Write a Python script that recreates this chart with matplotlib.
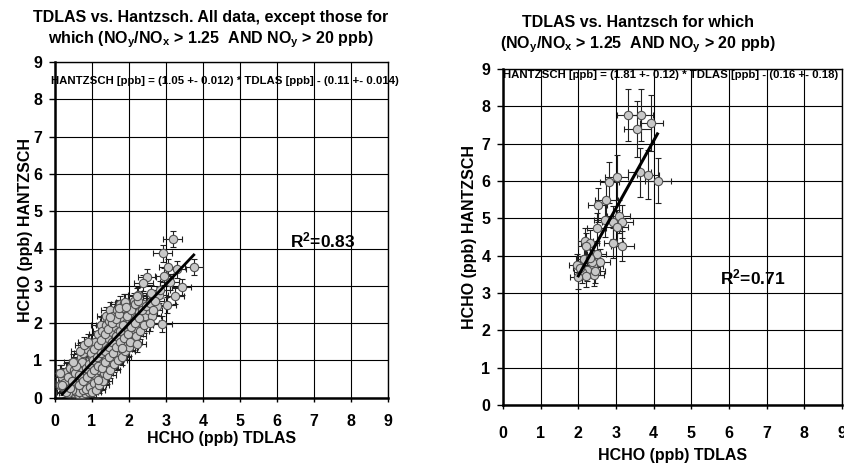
import matplotlib
matplotlib.use("Agg")
import matplotlib.pyplot as plt
import numpy as np

plt.rcParams['font.family'] = ['Liberation Sans', 'DejaVu Sans']
plt.rcParams['font.weight'] = 'bold'
plt.rcParams['mathtext.fontset'] = 'custom'
plt.rcParams['mathtext.rm'] = 'Liberation Sans:bold'
plt.rcParams['mathtext.bf'] = 'Liberation Sans:bold'
plt.rcParams['mathtext.it'] = 'Liberation Sans:bold'
plt.rcParams['mathtext.default'] = 'bf'

# ---------------- data ----------------
ticks = list(range(0, 10))

left_title = "TDLAS vs. Hantzsch. All data, except those for\nwhich (NO$_y$/NO$_x$ > 1.25  AND NO$_y$ > 20 ppb)"
right_title = "TDLAS vs. Hantzsch for which\n(NO$_y$/NO$_x$ > 1.25  AND NO$_y$ > 20 ppb)"
left_eq = "HANTZSCH [ppb] = (1.05 +- 0.012) * TDLAS [ppb] - (0.11 +- 0.014)"
right_eq = "HANTZSCH [ppb] = (1.81 +- 0.12) * TDLAS [ppb] - (0.16 +- 0.18)"
left_r2 = "R$^2$=0.83"
right_r2 = "R$^2$=0.71"
xlabel = "HCHO (ppb) TDLAS"
ylabel = "HCHO (ppb) HANTZSCH"

left_slope, left_icpt = 1.05, -0.11
right_slope, right_icpt = 1.81, -0.16
left_fit_x = [0.2, 3.75]
right_fit_x = [2.0, 4.1]

left_x = [
    0.14, 0.18, 0.22, 0.17,
    0.28, 0.33, 0.31,
    0.42, 0.38, 0.44, 0.41,
    0.52, 0.48, 0.55, 0.51,
    0.61, 0.58, 0.63, 0.57, 0.62,
    0.72, 0.68, 0.71, 0.74, 0.69,
    0.81, 0.78, 0.83, 0.79, 0.77,
    0.92, 0.88, 0.91, 0.94, 0.87,
    1.02, 0.98, 1.03, 0.99, 0.97,
    1.12, 1.08, 1.11, 1.13, 1.07,
    1.21, 1.18, 1.22, 1.19, 1.17, 1.23,
    1.32, 1.28, 1.31, 1.33, 1.27,
    1.42, 1.38, 1.41, 1.43, 1.37, 1.39,
    1.52, 1.48, 1.51, 1.53, 1.47, 1.49,
    1.62, 1.58, 1.61, 1.63, 1.57,
    1.72, 1.68, 1.71, 1.73, 1.67,
    1.82, 1.78, 1.81, 1.83, 1.77,
    1.92, 1.88, 1.91, 1.93, 1.87,
    2.02, 1.98, 2.01, 2.03,
    2.12, 2.08, 2.11, 2.13,
    2.22, 2.18, 2.21, 2.23,
    2.32, 2.28, 2.31,
    2.42, 2.38,
    2.52,
    0.55, 0.65, 0.75, 0.85, 0.95, 0.45, 0.35, 1.05,
    0.25, 0.36, 0.46, 0.53, 0.66, 0.64, 0.76, 0.73, 0.86, 0.84,
    0.96, 0.93, 0.96, 1.06, 1.04, 1.06, 1.16, 1.14, 1.15, 1.26,
    1.24, 1.25, 1.36, 1.34, 1.35, 1.46, 1.45, 1.44, 1.56, 1.55,
    1.54, 1.66, 1.64, 1.65, 1.76, 1.75, 1.74, 1.86, 1.85, 1.84,
    1.96, 1.95, 2.06, 2.05, 2.16, 2.15, 2.26, 2.25, 2.36, 2.46,
    2.56, 2.62, 2.75, 2.80, 1.00, 1.10, 1.20, 1.30, 1.40, 1.50,
    1.60, 1.70, 1.80, 1.90, 2.00, 2.10, 2.20, 2.30, 2.40, 0.58,
    0.48, 0.68, 0.78, 0.88, 0.30, 0.40,
    3.18, 2.91, 3.05, 3.29, 3.76, 2.95, 2.48, 2.39, 3.42, 3.24,
    3.02, 2.22, 1.89, 1.73, 1.49, 2.90, 2.57, 2.03, 1.80, 1.17,
    2.21, 0.18, 0.14, 2.70, 2.60, 3.10, 2.85, 2.65, 1.92,
]
left_y = [
    0.35, 0.55, 0.30, 0.65,
    0.25, 0.45, 0.70,
    0.15, 0.35, 0.60, 0.80,
    0.12, 0.30, 0.55, 0.75,
    0.10, 0.25, 0.45, 0.70, 0.95,
    0.10, 0.30, 0.55, 0.80, 1.10,
    0.12, 0.35, 0.60, 0.90, 1.20,
    0.15, 0.40, 0.70, 1.00, 1.30,
    0.25, 0.50, 0.80, 1.10, 1.45,
    0.35, 0.60, 0.90, 1.20, 1.50,
    0.50, 0.75, 1.00, 1.30, 1.70, 1.95,
    0.65, 0.90, 1.15, 1.45, 1.80,
    0.80, 1.05, 1.30, 1.60, 1.95, 2.20,
    0.95, 1.20, 1.45, 1.75, 2.05, 2.35,
    1.05, 1.30, 1.60, 1.90, 2.20,
    1.20, 1.45, 1.75, 2.00, 2.35,
    1.30, 1.60, 1.85, 2.15, 2.50,
    1.45, 1.75, 2.00, 2.30, 2.55,
    1.50, 1.85, 2.10, 2.40,
    1.70, 2.00, 2.25, 2.60,
    1.85, 2.15, 2.45, 2.75,
    2.00, 2.30, 2.55,
    2.20, 2.50,
    2.35,
    0.18, 0.15, 0.20, 0.22, 0.30, 0.20, 0.12, 0.40,
    0.40, 0.55, 0.45, 0.65, 0.60, 0.35, 0.45, 0.95, 0.55, 0.80,
    0.65, 0.90, 1.20, 0.75, 1.00, 1.30, 0.85, 1.10, 1.40, 0.80,
    1.20, 1.55, 0.95, 1.25, 1.70, 1.10, 1.35, 1.85, 1.20, 1.50,
    2.00, 1.35, 1.65, 2.10, 1.50, 1.80, 2.25, 1.60, 1.95, 2.40,
    1.70, 2.20, 1.90, 2.35, 2.00, 2.50, 2.15, 2.60, 2.35, 2.45,
    2.55, 2.20, 2.45, 2.75, 0.15, 0.20, 0.35, 0.45, 0.60, 0.75,
    0.90, 1.00, 1.10, 1.25, 1.35, 1.50, 1.65, 1.80, 1.95, 0.85,
    0.95, 1.25, 1.40, 1.50, 0.15, 0.25,
    4.25, 3.87, 3.51, 3.44, 3.50, 3.25, 3.23, 3.08, 2.96, 2.73,
    2.49, 2.73, 2.57, 2.40, 2.17, 1.97, 2.01, 1.50, 1.32, 0.47,
    1.44, 0.34, 0.65, 2.60, 2.80, 3.10, 2.90, 2.35, 2.42,
]
left_xerr = 0.25
left_yerr = 0.22

right_x = [3.33, 3.67, 3.94, 3.57, 3.63, 3.85, 4.11, 3.02, 2.82, 2.74,
           2.51, 2.71, 2.93, 3.07, 3.16, 3.02, 2.49, 2.93, 3.17, 2.18,
           2.31, 2.20, 2.49, 2.58, 2.14, 1.96, 2.40, 2.23, 2.09, 2.42,
           2.21, 1.98, 2.36, 2.30, 2.05, 2.45]
right_y = [7.77, 7.77, 7.55, 7.40, 6.23, 6.17, 6.01, 6.10, 5.96, 5.50,
           5.36, 4.96, 4.89, 5.05, 4.91, 4.78, 4.74, 4.35, 4.27, 4.38,
           4.33, 4.25, 4.05, 3.82, 3.91, 3.75, 3.71, 3.62, 3.57, 3.49,
           3.46, 3.42, 3.84, 3.95, 3.68, 3.58]
right_xerr = [0.30, 0.30, 0.30, 0.35, 0.30, 0.30, 0.35, 0.30, 0.25, 0.30,
              0.25, 0.30, 0.30, 0.30, 0.30, 0.30, 0.25, 0.25, 0.30, 0.20,
              0.25, 0.20, 0.25, 0.25, 0.20, 0.20, 0.25, 0.20, 0.20, 0.25,
              0.20, 0.20, 0.25, 0.20, 0.20, 0.25]
right_yerr = [0.70, 0.70, 0.75, 0.75, 0.65, 0.65, 0.60, 0.60, 0.55, 0.50,
              0.45, 0.45, 0.45, 0.45, 0.45, 0.45, 0.40, 0.40, 0.40, 0.35,
              0.35, 0.35, 0.35, 0.35, 0.35, 0.30, 0.30, 0.30, 0.30, 0.30,
              0.30, 0.30, 0.30, 0.30, 0.30, 0.30]

# ---------------- figure ----------------
W, H = 845, 466
fig = plt.figure(figsize=(W / 100, H / 100), dpi=100)

def frac_axes(x0, x1, ytop, ybot):
    return fig.add_axes([x0 / W, 1 - ybot / H, (x1 - x0) / W, (ybot - ytop) / H])

axL = frac_axes(55, 388, 62, 397.7)
axR = frac_axes(503, 842, 69, 405)

FS = 11.5

def style(ax, xpad, xlabpad, ylabpad):
    ax.set_xlim(0, 9)
    ax.set_ylim(0, 9)
    ax.set_xticks(ticks)
    ax.set_yticks(ticks)
    ax.set_xticklabels([str(t) for t in ticks], fontsize=FS, fontweight='bold')
    ax.set_yticklabels([str(t) for t in ticks], fontsize=FS, fontweight='bold')
    ax.grid(True, color='black', linewidth=0.8)
    ax.set_axisbelow(True)
    for s in ['left', 'bottom']:
        ax.spines[s].set_linewidth(1.8)
    for s in ['top', 'right']:
        ax.spines[s].set_linewidth(1.0)
    ax.tick_params(direction='out', length=3, width=1, pad=xpad, axis='x')
    ax.tick_params(direction='out', length=4, width=1, pad=5, axis='y')
    ax.set_xlabel(xlabel, fontsize=FS, fontweight='bold', labelpad=xlabpad)
    ax.set_ylabel(ylabel, fontsize=FS, fontweight='bold', labelpad=ylabpad)

style(axL, 9, 1, 0)
style(axR, 12, 5, 3)

mk = dict(fmt='o', ms=6, mfc='#c8c8c8', mec='#505050', mew=0.8,
          ecolor='#202020', elinewidth=0.8, capsize=2, capthick=0.8)

axL.errorbar(left_x, left_y, xerr=left_xerr, yerr=left_yerr, zorder=3, **mk)
fx = np.array(left_fit_x)
axL.plot(fx, left_slope * fx + left_icpt, color='black', lw=2, zorder=5)

axR.errorbar(right_x, right_y, xerr=right_xerr, yerr=right_yerr, zorder=3, **mk)
fx = np.array(right_fit_x)
axR.plot(fx, right_slope * fx + right_icpt, color='black', lw=2.2, zorder=5)

# equation and R^2 texts
fig.text(51 / W, 1 - 81 / H, left_eq, fontsize=8.2, fontweight='bold', ha='left', va='center')
fig.text(503 / W, 1 - 75 / H, right_eq, fontsize=8.2, fontweight='bold', ha='left', va='center')
fig.text(290 / W, 1 - 240 / H, left_r2, fontsize=12.5, fontweight='bold', ha='left', va='center')
fig.text(720 / W, 1 - 277 / H, right_r2, fontsize=12.5, fontweight='bold', ha='left', va='center')

# titles
fig.text(211 / W, 1 - 30 / H, left_title, fontsize=FS, fontweight='bold', ha='center', va='center',
         linespacing=1.3)
fig.text(638 / W, 1 - 35 / H, right_title, fontsize=FS, fontweight='bold', ha='center', va='center',
         linespacing=1.3)

fig.savefig("out.png", dpi=100)
